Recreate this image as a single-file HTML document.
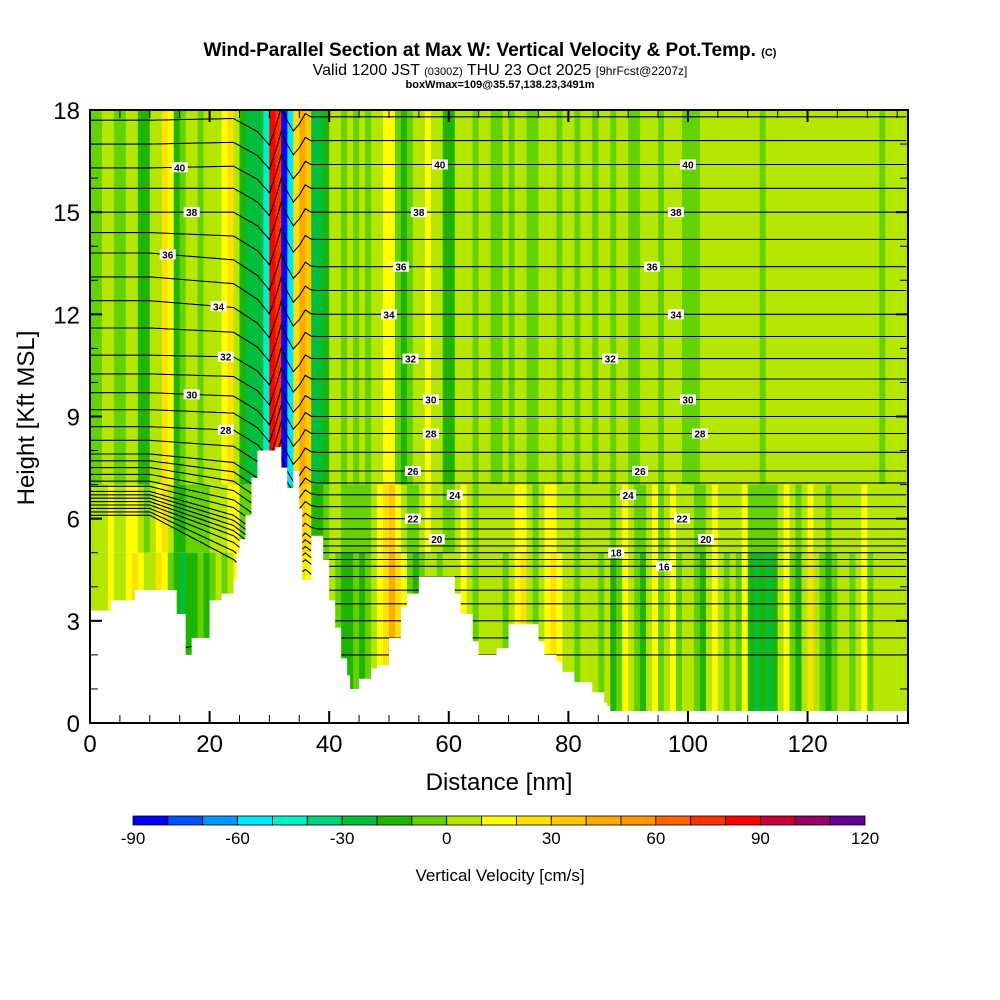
<!DOCTYPE html>
<html><head><meta charset="utf-8"><style>
body{margin:0;background:#fff;}
svg{display:block;font-family:"Liberation Sans",sans-serif;}
</style></head><body>
<svg id="chart" width="1000" height="1000" viewBox="0 0 1000 1000" xmlns="http://www.w3.org/2000/svg">
<defs><clipPath id="plotclip"><rect x="90" y="110" width="818" height="613"/></clipPath></defs>
<text x="490" y="56" text-anchor="middle" font-size="19" font-weight="bold">Wind-Parallel Section at Max W: Vertical Velocity &amp; Pot.Temp. <tspan font-size="11">(C)</tspan></text>
<text x="500" y="75" text-anchor="middle" font-size="16">Valid 1200 JST <tspan font-size="11">(0300Z)</tspan> THU 23 Oct 2025 <tspan font-size="12">[9hrFcst@2207z]</tspan></text>
<text x="500" y="88" text-anchor="middle" font-size="11" font-weight="bold">boxWmax=109@35.57,138.23,3491m</text>
<g clip-path="url(#plotclip)"><g id="field"></g><g id="contours"></g><g id="terrain"></g><g id="labels"></g></g><g id="axes"></g><g id="cbar"></g>
<text x="499" y="790" text-anchor="middle" font-size="24">Distance [nm]</text>
<text transform="translate(34,418) rotate(-90)" text-anchor="middle" font-size="24">Height [Kft MSL]</text>
<text x="500" y="881" text-anchor="middle" font-size="17">Vertical Velocity [cm/s]</text>
</svg>
<script>
const terrainX=[0,3,3.5,7,7.5,14,14.5,16,17,20,22,24,24.5,25,26,27,28,31,32,33,34,35,35.5,36,37,38,39,40,41,42,43,43.5,45,47,48,50,52,53,55,60,61,62,64,65,68,70,73,75,76,78,79,81,84,86,86.5,87,137];
const terrainH=[3.3,3.3,3.6,3.6,3.9,3.9,3.2,2.0,2.5,3.6,3.8,4.2,5.0,5.4,6.1,7.2,8.0,8.1,7.5,6.9,7.4,6.3,4.2,4.2,5.5,5.5,4.8,3.6,2.8,1.9,1.4,1.0,1.3,1.6,1.7,2.5,3.4,3.8,4.3,4.3,3.8,3.2,2.4,2.0,2.2,2.9,2.9,2.4,2.0,1.8,1.5,1.2,0.9,0.6,0.5,0.35,0.35];
const wUpper=[-5,-5,5,5,-5,-5,5,5,-15,-15,5,5,25,15,-15,-5,5,5,-5,5,5,5,15,25,5,-15,-25,-25,-25,-50,85,75,-85,-55,25,45,35,-25,-25,-15,5,5,-5,5,-5,5,-5,5,5,15,15,-5,-15,-5,5,5,15,5,5,-15,-15,5,5,5,-5,5,5,-5,-5,5,-5,5,5,-5,-5,5,5,5,-5,5,5,-5,5,5,-5,5,5,-5,5,5,-5,-5,5,5,5,-5,5,5,5,-5,-5,-5,5,5,5,5,5,5,5,5,5,5,-5,5,5,5,5,5,5,5,5,5,5,5,5,5,5,5,5,5,5,5,-5,5,5,5,5];
const wLower=[5,5,5,15,5,5,15,25,15,5,5,25,15,-5,-15,-25,-15,-15,-5,-15,-5,5,-5,5,15,5,5,5,5,15,35,25,-15,-25,-15,25,15,-5,-5,-5,5,-5,-15,-15,-5,-15,-5,5,15,25,45,25,15,-5,-15,-5,5,5,-5,5,5,5,15,5,-5,5,5,5,5,-5,5,15,25,5,-5,5,15,25,15,5,5,-5,5,5,5,-5,5,-15,-5,15,5,-5,-15,5,15,-5,5,15,-5,5,5,-5,-15,5,15,5,-5,5,-5,15,-15,-25,-15,-25,-15,5,15,-5,-15,5,25,5,-5,-15,-5,5,5,-5,5,15,-5,5,5,5,5,5,5];
const thetaLevels=[10,11,12,13,14,15,16,17,18,19,20,21,22,23,24,25,26,27,28,29,30,31,32,33,34,35,36,37,38,39,40,41,42];
const thetaHeightRight=[2.0,2.5,3.0,3.5,3.9,4.3,4.6,4.8,5.0,5.2,5.4,5.7,6.0,6.35,6.7,7.05,7.4,7.95,8.5,9.0,9.5,10.1,10.7,11.35,12.0,12.7,13.4,14.2,15.0,15.7,16.4,17.1,17.8];
const thetaHeightLeft=[0.5,1.0,2.0,6.1,6.2,6.3,6.4,6.5,6.6,6.7,6.8,6.95,7.1,7.3,7.5,7.7,7.9,8.3,8.7,9.2,9.7,10.25,10.8,11.6,12.4,13.1,13.8,14.4,15.0,15.7,16.3,17.0,17.7];
const mountainDip=[0,0,0,0,0,0,0,0,0,0,0,0,0,0,0,0,0,0,0,0,0,0,0,0,0,-0.1,-0.2,-0.3,-0.4,-0.6,-0.8,-0.3,0.3,-0.1,-0.4,-0.2,0.1,0];
const labelTheta=[40,38,36,34,32,30,28,40,38,36,34,32,30,28,26,24,22,20,40,38,36,34,32,30,28,26,24,22,20,18,16];
const labelX=[15,17,13,21.5,22.7,17,22.7,58.5,55,52,50,53.6,57,57,54,61,54,58,100,98,94,98,87,100,102,92,90,99,103,88,96];
const yTicks=[0,3,6,9,12,15,18];
const xTicks=[0,20,40,60,80,100,120];
const cbLevels=[-90,-80,-70,-60,-50,-40,-30,-20,-10,0,10,20,30,40,50,60,70,80,90,100,110,120];
const cbLabels=[-90,-60,-30,0,30,60,90,120];
const colors=["#0000ff","#0050ff","#0096ff","#00e6ff","#00f0c8","#00d27a","#00be3c","#1eb400","#64d200","#b4e600","#ffff00","#ffe100","#ffc800","#ffaa00","#ff9600","#ff6400","#ff3200","#ff0000","#c80032","#960064","#640096"];

const NS="http://www.w3.org/2000/svg";
const X0=90,X1=908,Y0=723,Y1=110,XMAX=136.8,YMAX=18;
const sx=d=>X0+d*(X1-X0)/XMAX, sy=h=>Y0-h*(Y0-Y1)/YMAX;
function el(tag,attrs,parent){const e=document.createElementNS(NS,tag);for(const k in attrs)e.setAttribute(k,attrs[k]);parent.appendChild(e);return e;}
function col(w){let i=Math.floor((w+90)/10);i=Math.max(0,Math.min(20,i));return colors[i];}
const field=document.getElementById('field');
for(let i=0;i<wUpper.length;i++){
  const xa=sx(i),xb=Math.min(sx(i+1),X1);
  let r=el('rect',{x:xa,y:Y1,width:xb-xa+0.6,height:sy(7)-Y1,fill:col(wUpper[i])},field);
  
  
  r=el('rect',{x:xa,y:sy(7),width:xb-xa+0.6,height:sy(5)-sy(7),fill:col((wUpper[i]+wLower[i])/2)},field);
  
  
  r=el('rect',{x:xa,y:sy(5),width:xb-xa+0.6,height:Y0-sy(5),fill:col(wLower[i])},field);
  
  
}
function dipAt(x){const i=Math.floor(x),f=x-i;const a=mountainDip[i]||0,b=mountainDip[i+1]||0;return a*(1-f)+b*f;}
function thetaH(k,x){
  const t=Math.min(1,Math.max(0,(x-10)/28));
  let h=thetaHeightLeft[k]*(1-t)+thetaHeightRight[k]*t;
  h+=dipAt(x)*Math.min(1,h/10+0.2);
  return h;
}
const cg=document.getElementById('contours');
thetaLevels.forEach((th,k)=>{
  let pts=[];for(let x=0;x<=XMAX;x+=0.5)pts.push(sx(x).toFixed(1)+','+sy(thetaH(k,x)).toFixed(1));
  const p=el('polyline',{points:pts.join(' '),fill:'none',stroke:'#000','stroke-width':1.1},cg);
  
  
});
const tg=document.getElementById('terrain');
let tp=[];terrainX.forEach((x,i)=>{tp.push(sx(x)+','+sy(terrainH[i]));if(i<terrainX.length-1)tp.push(sx(terrainX[i+1])+','+sy(terrainH[i]));});
tp.push(X1+','+Y0,X0+','+Y0);
const tpoly=el('polygon',{points:tp.join(' '),fill:'#fff'},tg);


const lg=document.getElementById('labels');
labelTheta.forEach((th,j)=>{
  const k=thetaLevels.indexOf(th);const x=sx(labelX[j]),y=sy(thetaH(k,labelX[j]));
  const r=el('rect',{x:x-8,y:y-5,width:16,height:10,fill:'#fff'},lg);
  
  
  const t=el('text',{x:x,y:y+4,'text-anchor':'middle','font-size':10,'font-weight':'bold'},lg);
  t.textContent=th;
  
  
});
const ag=document.getElementById('axes');
const frame=el('rect',{x:X0,y:Y1,width:X1-X0,height:Y0-Y1,fill:'none',stroke:'#000','stroke-width':2},ag);


for(let h=0;h<=18;h++){const y=sy(h),L=h%3==0?12:8;
  el('line',{x1:X0,x2:X0+L,y1:y,y2:y,stroke:'#000','stroke-width':h%3==0?2:1},ag);
  el('line',{x1:X1,x2:X1-L,y1:y,y2:y,stroke:'#000','stroke-width':h%3==0?2:1},ag);}
yTicks.forEach(v=>{const t=el('text',{x:X0-10,y:sy(v)+9,'text-anchor':'end','font-size':24},ag);t.textContent=v;
  
  });
for(let d=0;d<=135;d+=5){const x=sx(d),L=d%20==0?12:8;
  el('line',{x1:x,x2:x,y1:Y0,y2:Y0-L,stroke:'#000','stroke-width':d%20==0?2:1},ag);
  el('line',{x1:x,x2:x,y1:Y1,y2:Y1+L,stroke:'#000','stroke-width':d%20==0?2:1},ag);}
xTicks.forEach(v=>{const t=el('text',{x:sx(v),y:752,'text-anchor':'middle','font-size':24},ag);t.textContent=v;
  
  });
const cb=document.getElementById('cbar');
const CB0=133,CB1=865,cbx=v=>CB0+(v+90)*(CB1-CB0)/210;
for(let i=0;i<colors.length;i++){
  const r=el('rect',{x:cbx(cbLevels[i]),y:816,width:cbx(cbLevels[i+1])-cbx(cbLevels[i]),height:9,fill:colors[i],stroke:'#000','stroke-width':0.8},cb);
  
  
}
cbLabels.forEach(v=>{const t=el('text',{x:cbx(v),y:844,'text-anchor':'middle','font-size':17},cb);t.textContent=v;
  
  });
</script>
</body></html>
